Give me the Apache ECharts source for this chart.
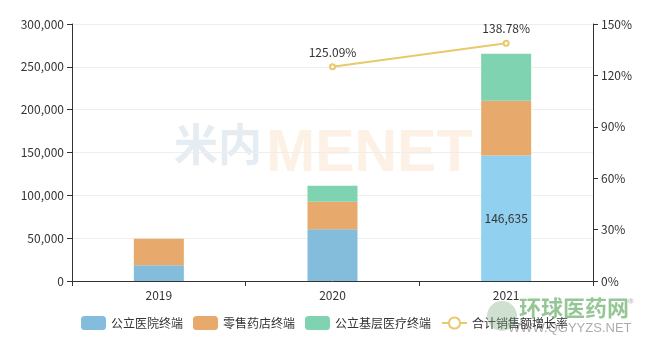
<!DOCTYPE html>
<html><head><meta charset="utf-8">
<script src="https://cdn.jsdelivr.net/npm/echarts@6/dist/echarts.min.js"></script>
<style>html,body{margin:0;padding:0;background:#fff}#c{width:649px;height:354px}</style>
</head><body><div id="c"></div>
<script>
var categories = ['2019', '2020', '2021'];
var publicHospital = [18300, 60300, 146635];
var retailPharmacy = [31000, 32300, 63900];
var grassroots = [null, 18500, 54800];
var growthRate = [null, 125.09, 138.78];
var leftTicks = [0, 50000, 100000, 150000, 200000, 250000, 300000];
var rightTicks = [0, 30, 60, 90, 120, 150];

var FONT = '"Noto Sans CJK SC", "Noto Sans", sans-serif';
var chart = echarts.init(document.getElementById('c'));
chart.setOption({
  animation: false,
  textStyle: {fontFamily: FONT},
  graphic: [
    {type: 'text', left: 174, top: 122, z: -1, style: {text: '米内', font: 'bold 44px ' + FONT, fill: '#e6edf2'}},
    {type: 'text', left: 266, top: 125, z: -1, style: {text: 'MENET', font: 'bold 59px "Liberation Sans", sans-serif', fill: '#fdf0e4'}},
    {type: 'circle', shape: {cx: 502, cy: 316, r: 15}, z: 100, style: {fill: 'rgba(120,165,120,0.35)'}},
    {type: 'text', left: 519, top: 297, z: 100, style: {text: '环球医药网', font: 'bold 22px ' + FONT, fill: 'rgba(80,160,80,0.6)'}},
    {type: 'text', left: 628, top: 297, z: 100, style: {text: '®', font: '12px ' + FONT, fill: 'rgba(120,120,120,0.5)'}},
    {type: 'text', left: 508, top: 322, z: 100, style: {text: 'WWW.QGYYZS.NET', font: '13px "Liberation Sans", sans-serif', fill: 'rgba(90,90,90,0.5)'}}
  ],
  grid: {left: 72, right: 56, top: 24, bottom: 73},
  legend: {
    bottom: 19, left: 'center', itemWidth: 25, itemHeight: 14, itemGap: 10,
    textStyle: {fontSize: 12, color: '#333'},
    data: ['公立医院终端', '零售药店终端', '公立基层医疗终端', '合计销售额增长率']
  },
  xAxis: {
    type: 'category', data: categories,
    axisLine: {lineStyle: {color: '#333'}},
    axisTick: {show: true, lineStyle: {color: '#333'}},
    axisLabel: {color: '#333', fontSize: 12, margin: 8}
  },
  yAxis: [
    {
      type: 'value', min: leftTicks[0], max: leftTicks[leftTicks.length - 1], interval: 50000,
      axisLine: {show: true, lineStyle: {color: '#333'}},
      axisTick: {show: true},
      axisLabel: {color: '#333', fontSize: 12, formatter: function (v) { return v.toLocaleString('en-US'); }},
      splitLine: {lineStyle: {color: '#eeeeee'}}
    },
    {
      type: 'value', min: rightTicks[0], max: rightTicks[rightTicks.length - 1], interval: 30,
      axisLine: {show: true, lineStyle: {color: '#333'}},
      axisTick: {show: true},
      axisLabel: {color: '#333', fontSize: 12, formatter: '{value}%'},
      splitLine: {show: false}
    }
  ],
  series: [
    {
      name: '公立医院终端', type: 'bar', stack: 'total', barWidth: 50,
      itemStyle: {color: '#84bddb'},
      data: publicHospital.map(function (v, i) {
        return i === 2 ? {value: v, itemStyle: {color: '#92d0f0'},
          label: {show: true, position: 'inside', color: '#333', fontSize: 12,
            formatter: function (p) { return p.value.toLocaleString('en-US'); }}} : v;
      })
    },
    {name: '零售药店终端', type: 'bar', stack: 'total', itemStyle: {color: '#e8aa6c'}, data: retailPharmacy},
    {name: '公立基层医疗终端', type: 'bar', stack: 'total', itemStyle: {color: '#80d3b0'}, data: grassroots},
    {
      name: '合计销售额增长率', type: 'line', yAxisIndex: 1, data: growthRate,
      symbol: 'emptyCircle', symbolSize: 5, connectNulls: false,
      itemStyle: {color: '#e8c96b'}, lineStyle: {color: '#e8c96b', width: 2},
      label: {show: true, position: 'top', color: '#333', fontSize: 12, distance: 5, formatter: '{c}%'}
    }
  ]
});
</script></body></html>
